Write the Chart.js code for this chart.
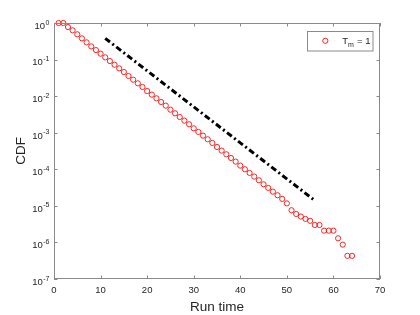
<!DOCTYPE html>
<html>
<head>
<meta charset="utf-8">
<script src="https://cdn.jsdelivr.net/npm/chart.js@4.4.0/dist/chart.umd.min.js"></script>
<style>
html,body{margin:0;padding:0;background:#fff;}
#wrap{width:420px;height:315px;}
</style>
</head>
<body>
<div id="wrap"><canvas id="c" width="420" height="315"></canvas></div>
<script>
const runTime = [1,2,3,4,5,6,7,8,9,10,11,12,13,14,15,16,17,18,19,20,21,22,23,24,25,26,27,28,29,30,31,32,33,34,35,36,37,38,39,40,41,42,43,44,45,46,47,48,49,50,51,52,53,54,55,56,57,58,59,60,61,62,63,64];
const cdfValues = [1.0,1.0,0.776,0.631,0.490,0.380,0.295,0.229,0.182,0.145,0.115,0.0912,0.0724,0.0575,0.0457,0.0355,0.0282,0.0224,0.0178,0.0138,0.0110,0.00871,0.00692,0.00550,0.00427,0.00339,0.00269,0.00214,0.00170,0.00132,0.00105,8.32e-4,6.61e-4,5.25e-4,4.07e-4,3.24e-4,2.57e-4,2.04e-4,1.62e-4,1.26e-4,1.0e-4,7.94e-5,6.31e-5,5.01e-5,3.89e-5,3.09e-5,2.45e-5,1.95e-5,1.55e-5,1.17e-5,7.6e-6,6.0e-6,5.1e-6,4.4e-6,3.9e-6,3.0e-6,3.0e-6,2.1e-6,2.1e-6,2.1e-6,1.3e-6,8.7e-7,4.3e-7,4.3e-7];
const refLineX = [11, 56];
const refLineY = [0.38, 1.4e-5];
const xTicks = [0,10,20,30,40,50,60,70];
const yTickExponents = [0,-1,-2,-3,-4,-5,-6,-7];
const seriesLabel = ['T', 'm', ' = 1'];
const xTitle = 'Run time';
const yTitle = 'CDF';

const axisColor = '#262626';
const boxColor = '#8a8a8a';
const FONT = '"Liberation Sans", Arial, Helvetica, sans-serif';

const decorPlugin = {
  id: 'decor',
  afterDraw(chart) {
    const ctx = chart.ctx;
    const a = chart.chartArea;
    const xs = chart.scales.x, ys = chart.scales.y;
    ctx.save();
    // box
    ctx.strokeStyle = boxColor;
    ctx.lineWidth = 1;
    ctx.strokeRect(Math.round(a.left)+0.5, Math.round(a.top)+0.5, Math.round(a.right-a.left)-1, Math.round(a.bottom-a.top)-1);
    // x ticks (inward, top and bottom)
    const tl = 3.5;
    ctx.beginPath();
    xTicks.forEach(v => {
      const px = Math.round(xs.getPixelForValue(v)) + 0.5;
      ctx.moveTo(px, a.bottom); ctx.lineTo(px, a.bottom - tl);
      ctx.moveTo(px, a.top); ctx.lineTo(px, a.top + tl);
    });
    yTickExponents.forEach(e => {
      const py = Math.round(ys.getPixelForValue(Math.pow(10, e))) + 0.5;
      ctx.moveTo(a.left, py); ctx.lineTo(a.left + tl, py);
      ctx.moveTo(a.right, py); ctx.lineTo(a.right - tl, py);
    });
    ctx.stroke();
    // y tick labels with superscript exponent
    ctx.fillStyle = axisColor;
    ctx.textBaseline = 'alphabetic';
    yTickExponents.forEach(e => {
      const py = ys.getPixelForValue(Math.pow(10, e));
      const base = '10';
      const exp = e === 0 ? '0' : '-' + Math.abs(e);
      ctx.font = '9.5px ' + FONT;
      const wb = ctx.measureText(base).width;
      ctx.font = '7px ' + FONT;
      const we = ctx.measureText(exp).width;
      const right = a.left - 4.5;
      const x0 = right - we - wb - 0.5;
      ctx.font = '9.5px ' + FONT;
      ctx.textAlign = 'left';
      ctx.fillText(base, x0, py + 5.8);
      ctx.font = '7px ' + FONT;
      ctx.fillText(exp, x0 + wb + 0.5, py + 1.5);
    });
    // y title
    ctx.save();
    ctx.translate(21, (a.top + a.bottom) / 2);
    ctx.rotate(-Math.PI / 2);
    ctx.font = '13.5px ' + FONT;
    ctx.textAlign = 'center';
    ctx.textBaseline = 'middle';
    ctx.fillText(yTitle, 0, 0);
    ctx.restore();
    // legend
    const lx = 307, ly = 31, lw = 65.5, lh = 19.5;
    ctx.fillStyle = '#fff';
    ctx.fillRect(lx, ly, lw, lh);
    ctx.strokeStyle = boxColor;
    ctx.strokeRect(lx + 0.5, ly + 0.5, lw, lh);
    ctx.strokeStyle = 'rgba(255,0,0,0.85)';
    ctx.lineWidth = 1;
    ctx.beginPath();
    ctx.arc(325.3, 40.8, 2.6, 0, Math.PI * 2);
    ctx.stroke();
    ctx.fillStyle = axisColor;
    ctx.textAlign = 'left';
    ctx.textBaseline = 'alphabetic';
    ctx.font = '9.5px ' + FONT;
    ctx.fillText(seriesLabel[0], 342.3, 43.5);
    const wT = ctx.measureText(seriesLabel[0]).width;
    ctx.font = '7px ' + FONT;
    ctx.fillText(seriesLabel[1], 342.3 + wT, 46.5);
    const wm = ctx.measureText(seriesLabel[1]).width;
    ctx.font = '9.5px ' + FONT;
    ctx.fillText(seriesLabel[2], 342.3 + wT + wm + 0.5, 43.5);
    ctx.restore();
  }
};

new Chart(document.getElementById('c'), {
  type: 'scatter',
  data: {
    datasets: [
      {
        label: 'ref',
        type: 'line',
        data: refLineX.map((x, i) => ({x: x, y: refLineY[i]})),
        borderColor: '#000',
        borderWidth: 3,
        borderDash: [6, 3, 2, 3],
        pointRadius: 0,
        fill: false,
        order: 2
      },
      {
        label: 'Tm = 1',
        data: runTime.map((x, i) => ({x: x, y: cdfValues[i]})),
        pointStyle: 'circle',
        pointRadius: 2.6,
        pointBorderWidth: 1,
        pointBackgroundColor: 'rgba(0,0,0,0)',
        pointBorderColor: 'rgba(255,0,0,0.85)',
        showLine: false,
        clip: false,
        order: 1
      }
    ]
  },
  options: {
    responsive: false,
    animation: false,
    devicePixelRatio: 1,
    layout: { padding: { left: 0, top: 23, right: 40, bottom: 0 } },
    plugins: { legend: { display: false }, tooltip: { enabled: false } },
    scales: {
      x: {
        type: 'linear',
        min: 0, max: 70,
        afterBuildTicks: (s) => { s.ticks = xTicks.map(v => ({value: v})); },
        afterFit: (s) => { s.height = 36; },
        grid: { display: false, drawTicks: false },
        border: { display: false },
        ticks: { color: axisColor, padding: 6, font: { family: FONT, size: 9.5 }, maxRotation: 0 },
        title: { display: true, text: xTitle, color: axisColor, padding: { top: 0, bottom: 0 }, font: { family: FONT, size: 13.5, lineHeight: 1.2 } }
      },
      y: {
        type: 'logarithmic',
        min: 1e-7, max: 1,
        afterFit: (s) => { s.width = 54; },
        grid: { display: false, drawTicks: false },
        border: { display: false },
        ticks: { display: false }
      }
    }
  },
  plugins: [decorPlugin]
});
</script>
</body>
</html>
